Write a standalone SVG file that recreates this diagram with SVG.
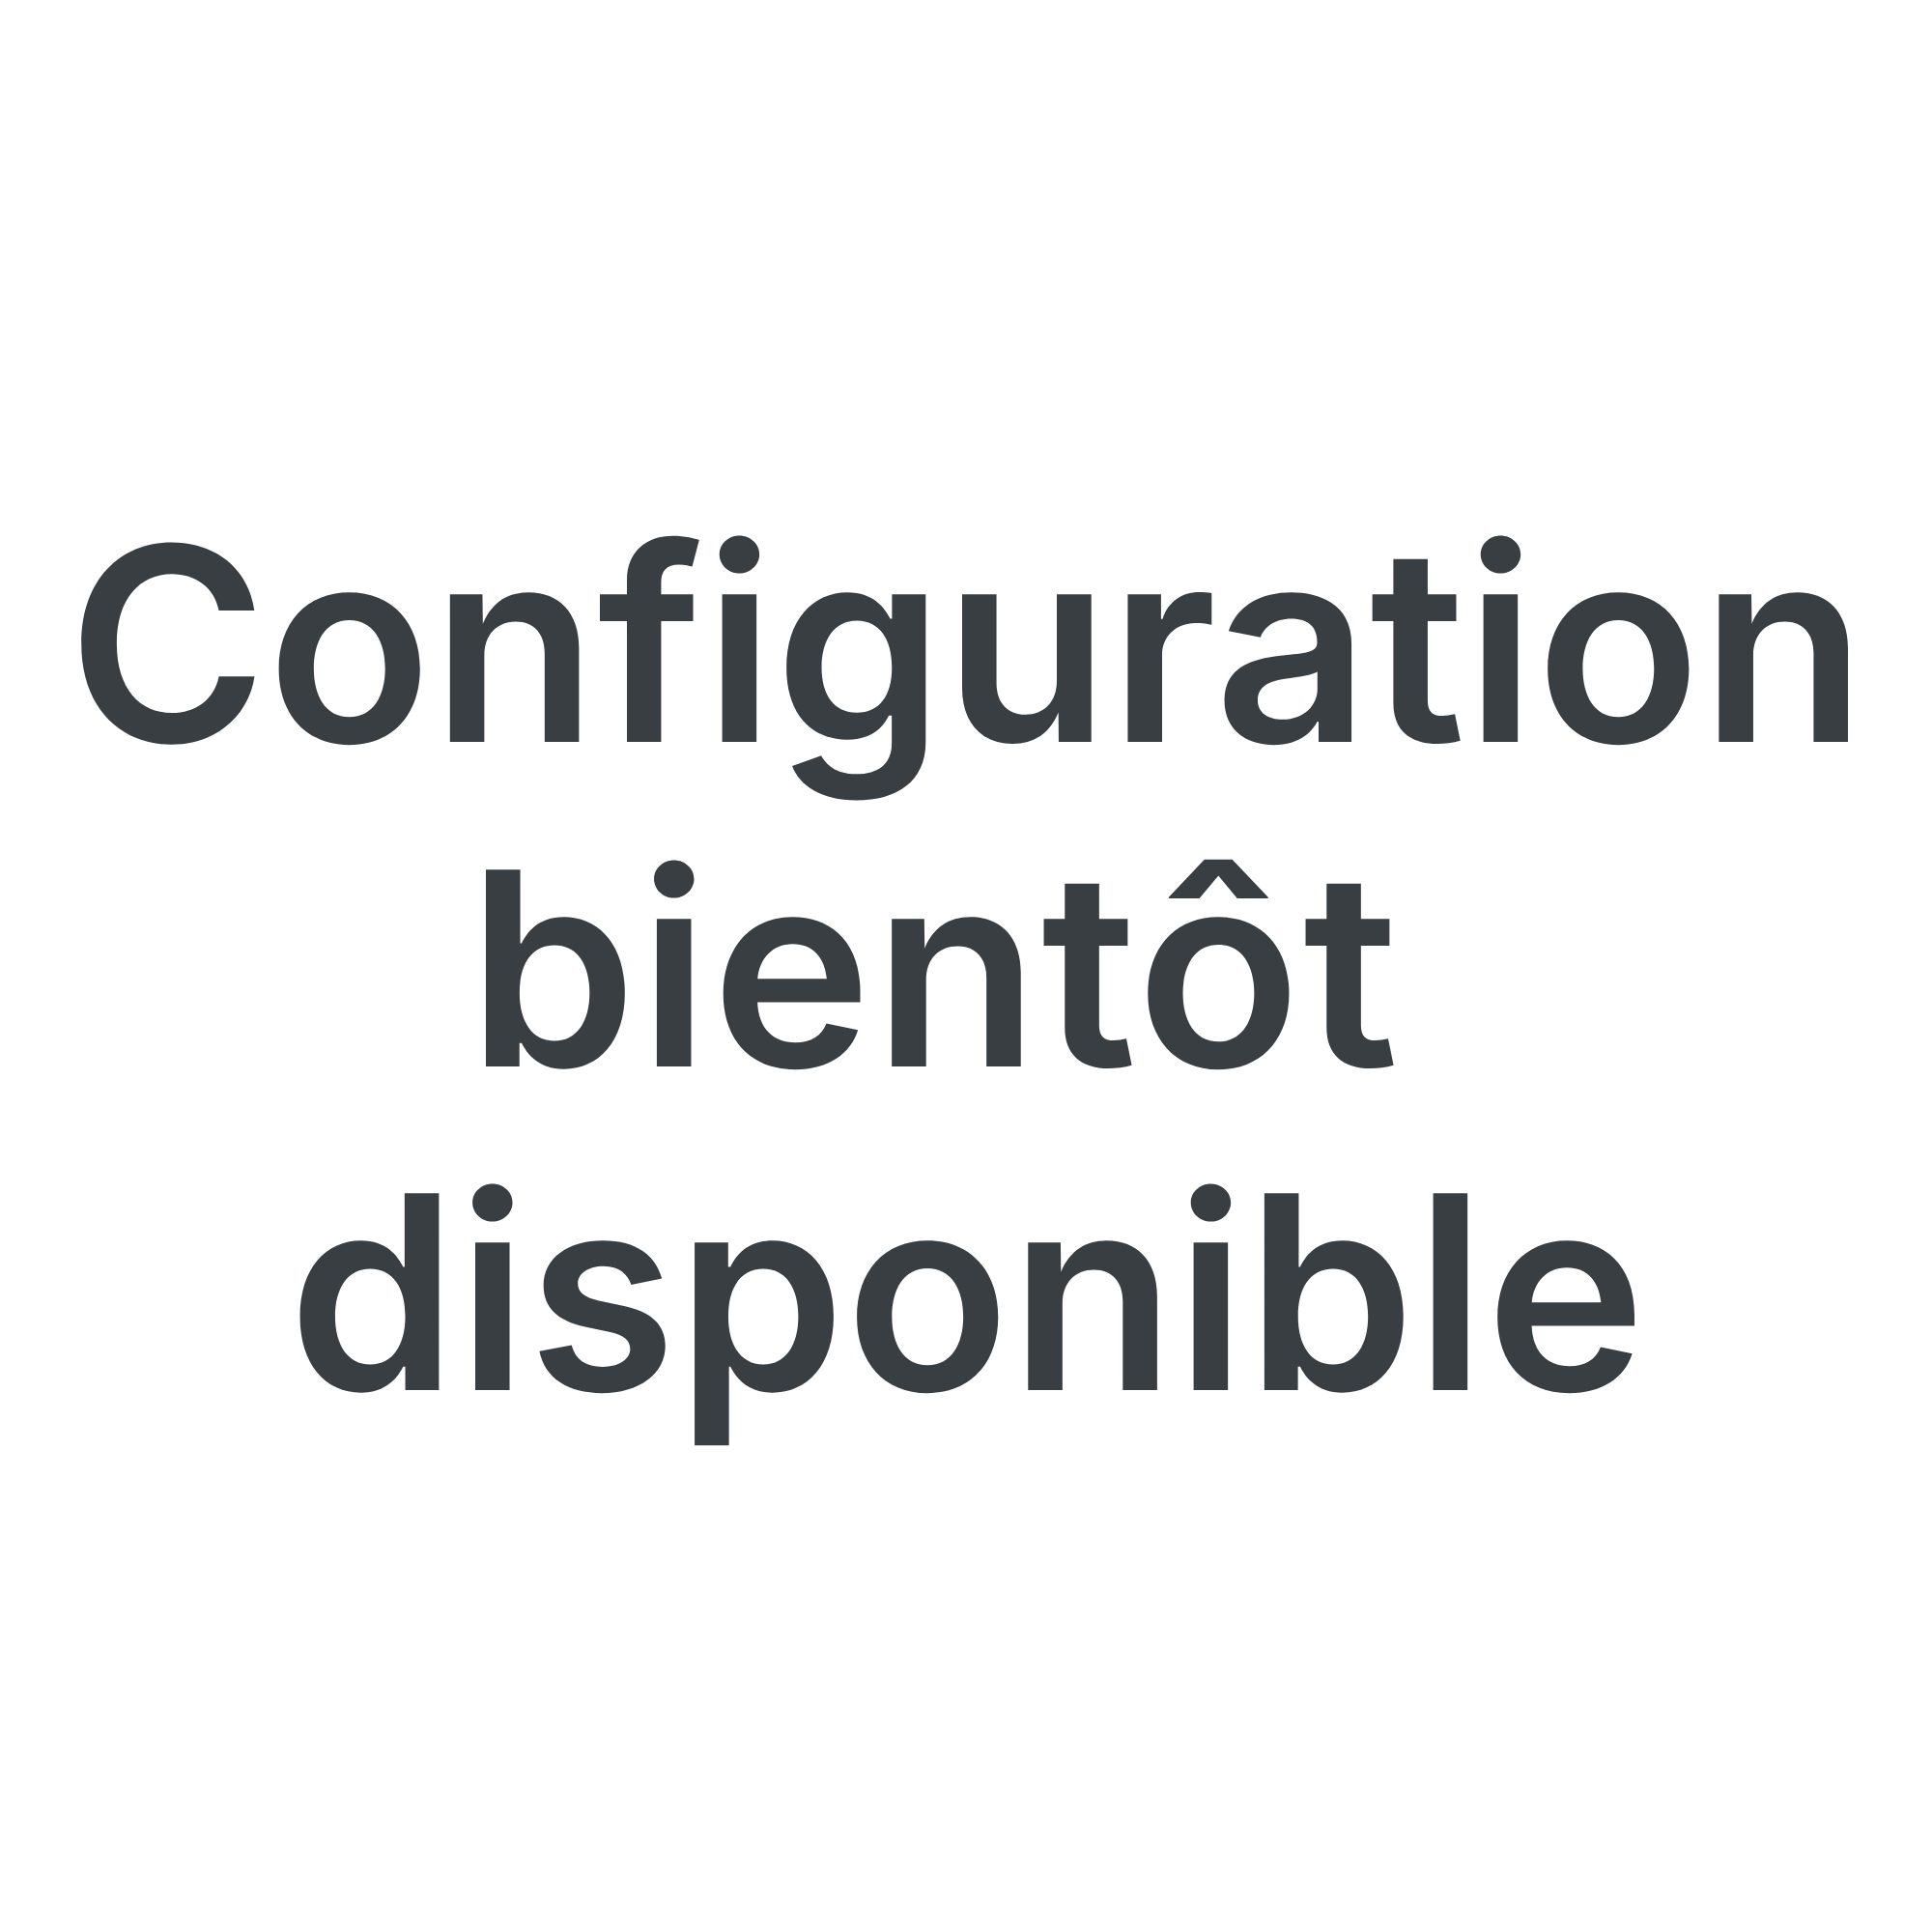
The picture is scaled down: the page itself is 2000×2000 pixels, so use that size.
<svg xmlns="http://www.w3.org/2000/svg" width="2000" height="2000" viewBox="0 0 2000 2000">
<style>
.t{font-family:Inter,"Noto Sans","DejaVu Sans",sans-serif;font-weight:600;font-size:280px;fill:#393e42;text-anchor:middle}
</style>
<rect width="2000" height="2000" fill="#ffffff"/>
<g id="title">
<text class="t" x="1001" y="768">Configuration</text>
<text class="t" x="967" y="1104" letter-spacing="2.2">bientôt</text>
<text class="t" x="1001" y="1439">disponible</text>
</g>
</svg>
